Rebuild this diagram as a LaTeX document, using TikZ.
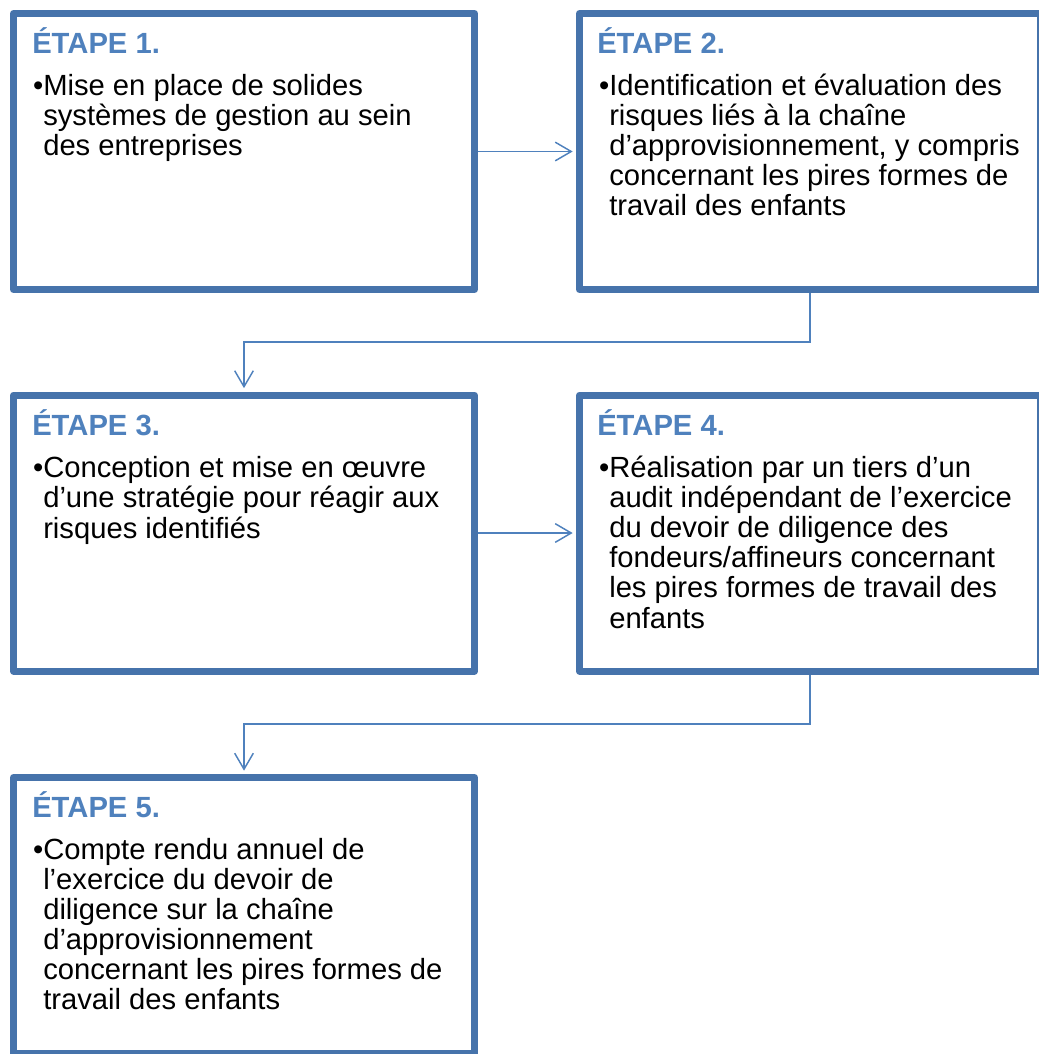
\documentclass[tikz,border=0pt]{standalone}
\usepackage{fontspec}
\setmainfont{Liberation Sans}
\usetikzlibrary{arrows.meta,shadows}
\definecolor{bordc}{RGB}{70,115,171}
\definecolor{titc}{RGB}{79,129,189}
\definecolor{linec}{RGB}{79,129,189}
\begin{document}
\begin{tikzpicture}[x=0.75pt,y=-0.75pt,
  stepbox/.style={draw=bordc, line width=5.25pt, line join=round, fill=white,
    minimum width=345.75pt, minimum height=207pt, inner sep=0pt,
    drop shadow={shadow xshift=1pt, shadow yshift=-1.5pt, opacity=0.25}},
  steptitle/.style={anchor=base west, inner sep=0pt,
    font=\fontsize{21.9}{22.5}\selectfont\bfseries, text=titc},
  stepbody/.style={anchor=base west, inner sep=0pt,
    font=\fontsize{21.9}{22.5}\selectfont},
  link/.style={draw=linec, line width=1.1pt,
    -{Straight Barb[length=12pt,width=14pt]}, shorten >=2.5pt}
]
\useasboundingbox (0,0) rectangle (1039,1054);

\node[stepbox] (b1) at (244,151.5) {};
\node[stepbox] (b2) at (810,151.5) {};
\node[stepbox] (b3) at (244,533) {};
\node[stepbox] (b4) at (810,533) {};
\node[stepbox] (b5) at (244,915.5) {};

\node[steptitle] (h1) at (32,53) {ÉTAPE 1.};
\node[steptitle] (h2) at (597,53) {ÉTAPE 2.};
\node[steptitle] (h3) at (32,435) {ÉTAPE 3.};
\node[steptitle] (h4) at (597,435) {ÉTAPE 4.};
\node[steptitle] (h5) at (32,817) {ÉTAPE 5.};

\node[stepbody] (t1) at (43,95) {\begin{tabular}[t]{@{}l@{}}\llap{•}Mise en place de solides\\
systèmes de gestion au sein\\
des entreprises\end{tabular}};
\node[stepbody] (t2) at (609,95) {\begin{tabular}[t]{@{}l@{}}\llap{•}Identification et évaluation des\\
risques liés à la chaîne\\
d’approvisionnement, y compris\\
concernant les pires formes de\\
travail des enfants\end{tabular}};
\node[stepbody] (t3) at (43,477) {\begin{tabular}[t]{@{}l@{}}\llap{•}Conception et mise en œuvre\\
d’une stratégie pour réagir aux\\
risques identifiés\end{tabular}};
\node[stepbody] (t4) at (609,477) {\begin{tabular}[t]{@{}l@{}}\llap{•}Réalisation par un tiers d’un\\
audit indépendant de l’exercice\\
du devoir de diligence des\\
fondeurs/affineurs concernant\\
les pires formes de travail des\\
enfants\end{tabular}};
\node[stepbody] (t5) at (43,859) {\begin{tabular}[t]{@{}l@{}}\llap{•}Compte rendu annuel de\\
l’exercice du devoir de\\
diligence sur la chaîne\\
d’approvisionnement\\
concernant les pires formes de\\
travail des enfants\end{tabular}};

\coordinate (k1) at (810,342);
\coordinate (k2) at (810,724);
\draw[link] (b1.east) -- (b2.west);
\draw[link] (b3.east) -- (b4.west);
\draw[link] (b2.south) -- (k1) -| (b3.north);
\draw[link] (b4.south) -- (k2) -| (b5.north);
\end{tikzpicture}
\end{document}
